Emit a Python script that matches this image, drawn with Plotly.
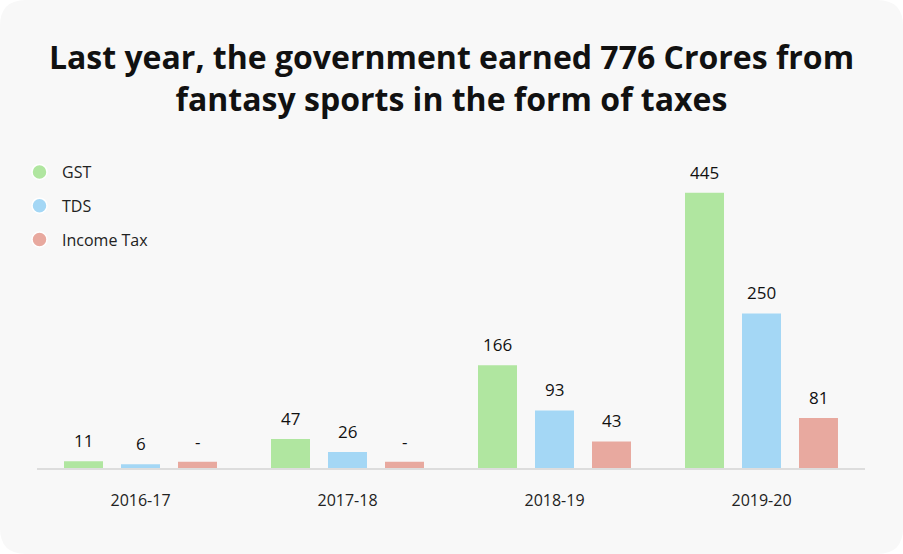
import plotly.graph_objects as go

# ---- data ----
years = ["2016-17", "2017-18", "2018-19", "2019-20"]
gst = [11, 47, 166, 445]
tds = [6, 26, 93, 250]
income_tax = [None, None, 43, 81]   # "-" = not available
missing_stub = 10                    # height of the "no data" stub drawn in the reference
series_names = ["GST", "TDS", "Income Tax"]
series_colors = ["#B0E6A0", "#A4D7F5", "#E8A99F"]
title_text = "Last year, the government earned 776 Crores from<br>fantasy sports in the form of taxes"

W, H = 903, 554
L, R, T, B = 37, 38, 160, 86
bargap = 0.174
bargroupgap = 0.316
FONT = "Open Sans"

fig = go.Figure()
all_series = [gst, tds, income_tax]
n = len(all_series)
slot = (1 - bargap) / n
for i, (name, vals, col) in enumerate(zip(series_names, all_series, series_colors)):
    ys = [v if v is not None else missing_stub for v in vals]
    fig.add_trace(go.Bar(x=years, y=ys, name=name, marker=dict(color=col, line=dict(width=0)),
                         showlegend=False, hoverinfo="skip"))
    # legend entry with circle marker
    fig.add_trace(go.Scatter(x=[None], y=[None], mode="markers", name=name, legendgroup=name,
                             marker=dict(symbol="circle", size=15, color=col,
                                         line=dict(color="white", width=1.5)),
                             showlegend=True))
    offset = (i - (n - 1) / 2) * slot
    for k, (v, y) in enumerate(zip(vals, ys)):
        fig.add_annotation(x=k + offset, y=y, xref="x", yref="y",
                           text="-" if v is None else str(v), showarrow=False,
                           yanchor="bottom", yshift=7,
                           font=dict(family=FONT, size=17, color="#111"))

# card background with rounded corners (computed in paper coords)
pw, ph = W - L - R, H - T - B
def px(x):
    return (x - L) / pw
def py(y):
    return (H - B - y) / ph
r = 26
x0, x1, y0, y1 = 0, W, 0, H
path = (f"M {px(x0 + r)} {py(y0)} L {px(x1 - r)} {py(y0)} Q {px(x1)} {py(y0)} {px(x1)} {py(y0 + r)} "
        f"L {px(x1)} {py(y1 - r)} Q {px(x1)} {py(y1)} {px(x1 - r)} {py(y1)} "
        f"L {px(x0 + r)} {py(y1)} Q {px(x0)} {py(y1)} {px(x0)} {py(y1 - r)} "
        f"L {px(x0)} {py(y0 + r)} Q {px(x0)} {py(y0)} {px(x0 + r)} {py(y0)} Z")
fig.add_shape(type="path", path=path, xref="paper", yref="paper",
              fillcolor="#F8F8F8", line=dict(width=0), layer="below")

fig.update_layout(
    width=W, height=H,
    margin=dict(l=L, r=R, t=T, b=B, pad=0, autoexpand=False),
    paper_bgcolor="white", plot_bgcolor="rgba(0,0,0,0)",
    barmode="group", bargap=bargap, bargroupgap=bargroupgap,
    title=dict(text=title_text, x=0.5, xanchor="center", xref="container",
               y=1 - 69 / H, yanchor="top", yref="container",
               font=dict(family=FONT, size=32, color="#111", weight="bold")),
    legend=dict(x=px(17), y=py(155), xanchor="left", yanchor="top",
                bgcolor="rgba(0,0,0,0)",
                font=dict(family=FONT, size=16, color="#222"),
                tracegroupgap=10, itemsizing="trace", itemwidth=35),
    xaxis=dict(type="category", showgrid=False, zeroline=False, showline=True,
               linecolor="#DDDDDD", linewidth=2, ticks="",
               tickfont=dict(family=FONT, size=16, color="#222"),
               ticklabelstandoff=17, fixedrange=True),
    yaxis=dict(range=[0, 498], visible=False, showgrid=False, zeroline=False, fixedrange=True),
)

fig.write_html("out.html", config={"displayModeBar": False},
               post_script="document.body.style.margin='0';document.body.style.padding='0';")
